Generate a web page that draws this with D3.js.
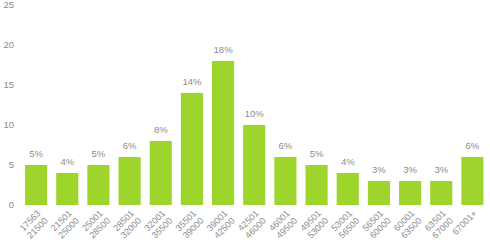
<!DOCTYPE html>
<html>
<head>
<meta charset="utf-8">
<script src="https://cdn.jsdelivr.net/npm/d3@7"></script>
<style>
  body { margin: 0; background: #fff; }
  text { font-family: "Liberation Sans", Arial, sans-serif; fill: #8c8c8c; }
</style>
</head>
<body>
<svg id="chart"></svg>
<script>
const lowBounds  = ['17563', '21501', '25001', '28501', '32001', '35501', '39001', '42501',
                    '46001', '49501', '53001', '56501', '60001', '63501', '67001+'];
const highBounds = ['21500', '25000', '28500', '32000', '35500', '39000', '42500', '46000',
                    '49500', '53000', '56500', '60000', '63500', '67000', ''];
const shares = [5, 4, 5, 6, 8, 14, 18, 10, 6, 5, 4, 3, 3, 3, 6];
const yTicks = [0, 5, 10, 15, 20, 25];

const w = 490, h = 245;
let svg = d3.select('#chart').attr('width', w).attr('height', h);

let xScale = d3.scaleBand()
    .domain(lowBounds)
    .range([20.5, 488])
    .paddingInner(0.29)
    .paddingOuter(0.145);

let yScale = d3.scaleLinear().domain([0, 25]).range([205, 5]);

// y labels, no axis line
svg.append('g')
  .selectAll('text')
  .data(yTicks)
  .enter().append('text')
    .attr('x', 14)
    .attr('y', d => yScale(d))
    .attr('dy', '0.35em')
    .attr('text-anchor', 'end')
    .attr('font-size', 9.5)
    .text(d => d);

svg.append('g')
  .selectAll('rect')
  .data(shares)
  .enter().append('rect')
    .attr('x', (d, i) => xScale(lowBounds[i]))
    .attr('y', d => yScale(d))
    .attr('width', xScale.bandwidth())
    .attr('height', d => yScale(0) - yScale(d))
    .attr('fill', '#9dd52c');

svg.append('g')
  .selectAll('text')
  .data(shares)
  .enter().append('text')
    .attr('x', (d, i) => xScale(lowBounds[i]) + xScale.bandwidth() / 2)
    .attr('y', d => yScale(d) - 8)
    .attr('text-anchor', 'middle')
    .attr('font-size', 9.5)
    .text(d => d + '%');

// rotated two-line category labels
let lab = svg.append('g')
  .selectAll('text')
  .data(lowBounds)
  .enter().append('text')
    .attr('text-anchor', 'end')
    .attr('font-size', 9)
    .attr('transform', (d, i) => {
      let cx = xScale(d) + xScale.bandwidth() / 2 + 5;
      return `translate(${cx}, 214) rotate(-45)`;
    });

lab.append('tspan')
    .attr('x', 0)
    .attr('y', 0)
    .text(d => d);

lab.append('tspan')
    .attr('x', 0)
    .attr('dy', '1.15em')
    .text((d, i) => highBounds[i]);
</script>
</body>
</html>
